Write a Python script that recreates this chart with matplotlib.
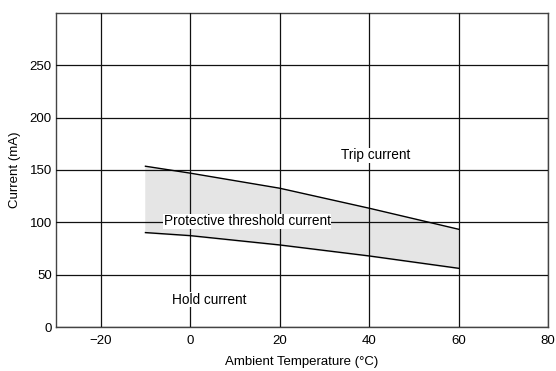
import matplotlib
matplotlib.use('Agg')
from matplotlib import pyplot as plt

plt.rcParams['font.family'] = ['Liberation Sans', 'DejaVu Sans']

temp = [-10, 0, 20, 40, 60]
trip_current = [153.6, 147.0, 132.6, 113.5, 93.4]
hold_current = [90.2, 87.3, 78.4, 67.9, 56.1]
x_ticks = [-20, 0, 20, 40, 60, 80]
y_ticks = [0, 50, 100, 150, 200, 250]


def main():
    fig = plt.figure(figsize=(5.56, 3.71), dpi=100)
    ax = fig.add_axes([56 / 556, 1 - 327 / 371, 492 / 556, 314 / 371])
    ax.set_xlim(-30, 80)
    ax.set_ylim(0, 300)
    ax.set_xticks(x_ticks)
    ax.set_yticks(y_ticks)
    ax.set_xticklabels(['\u221220', '0', '20', '40', '60', '80'])
    ax.tick_params(length=0, labelsize=9.5)
    ax.tick_params(axis='x', pad=6)
    ax.tick_params(axis='y', pad=3)
    ax.set_axisbelow(False)
    ax.grid(True, color='#111111', linewidth=0.9)
    for s in ax.spines.values():
        s.set_color('#444444')
        s.set_linewidth(1.0)

    ax.fill_between(temp, hold_current, trip_current, color='#e5e5e5', zorder=1)
    ax.plot(temp, trip_current, color='black', linewidth=1.0, zorder=3)
    ax.plot(temp, hold_current, color='black', linewidth=1.0, zorder=3)

    box = dict(facecolor='white', edgecolor='none', pad=0.5)
    ax.text(12.7, 101, 'Protective threshold current', ha='center', va='center',
            fontsize=9.8, bbox=box, zorder=4)
    ax.text(41.5, 164, 'Trip current', ha='center', va='center', fontsize=9.8,
            bbox=box, zorder=4)
    ax.text(4.3, 26, 'Hold current', ha='center', va='center', fontsize=9.8,
            bbox=box, zorder=4)

    ax.set_xlabel('Ambient Temperature (\u00b0C)', fontsize=9.5, labelpad=6)
    ax.set_ylabel('Current (mA)', fontsize=9.5, labelpad=6)

    fig.savefig('out.png')
    plt.close(fig)


if __name__ == '__main__':
    main()
